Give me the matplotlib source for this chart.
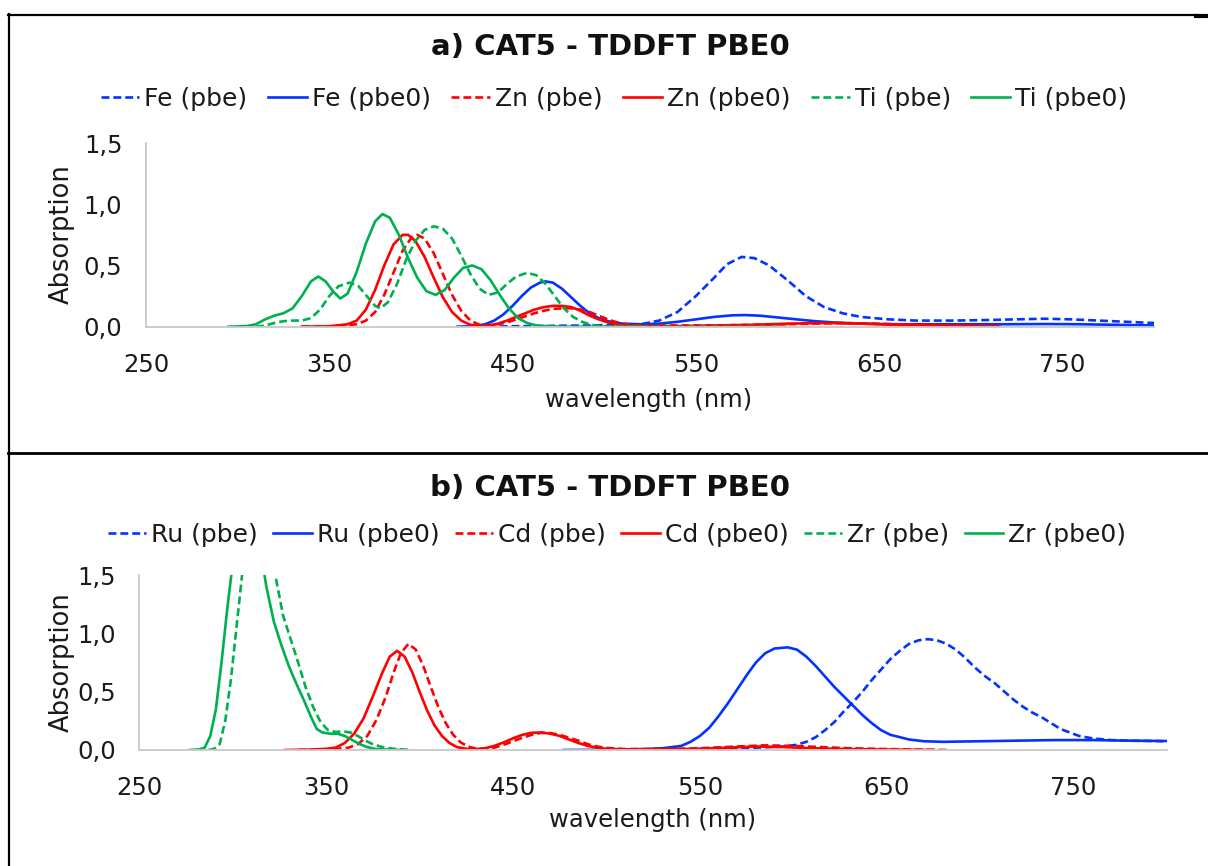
import matplotlib
matplotlib.use("Agg")
import matplotlib.pyplot as plt
from matplotlib.lines import Line2D
from matplotlib.ticker import FuncFormatter

BLUE = '#0433ff'
RED = '#ff0000'
GREEN = '#00b050'

# ---- panel a) ----
fe_pbe_x = [430, 460, 490, 510, 520, 530, 540, 550, 560, 567, 575, 582, 590, 600, 610, 620,
            630, 640, 655, 670, 690, 710, 725, 740, 755, 770, 785, 800]
fe_pbe_y = [0, 0.005, 0.01, 0.015, 0.02, 0.05, 0.12, 0.25, 0.40, 0.51, 0.57, 0.56, 0.50, 0.38,
            0.25, 0.16, 0.11, 0.08, 0.06, 0.05, 0.05, 0.055, 0.06, 0.065, 0.06, 0.05, 0.04, 0.03]

fe_pbe0_x = [420, 430, 435, 440, 445, 450, 455, 460, 465, 468, 472, 477, 482, 487, 492, 497,
             502, 510, 520, 530, 540, 550, 560, 570, 577, 585, 595, 605, 615, 625, 640, 660,
             680, 700, 720, 740, 760, 780, 800]
fe_pbe0_y = [0, 0.005, 0.02, 0.05, 0.10, 0.17, 0.25, 0.32, 0.36, 0.37, 0.36, 0.31, 0.24, 0.17,
             0.11, 0.07, 0.045, 0.025, 0.02, 0.025, 0.04, 0.06, 0.08, 0.093, 0.095, 0.09, 0.075,
             0.06, 0.045, 0.035, 0.025, 0.02, 0.02, 0.02, 0.02, 0.022, 0.02, 0.015, 0.01]

zn_pbe_x = [335, 355, 365, 370, 375, 380, 385, 390, 395, 398, 402, 407, 412, 417, 422, 427,
            432, 437, 442, 447, 452, 457, 462, 467, 472, 477, 482, 487, 492, 497, 502, 507,
            512, 520, 560, 600, 630, 660, 690, 717]
zn_pbe_y = [0, 0.005, 0.02, 0.05, 0.12, 0.26, 0.44, 0.62, 0.73, 0.75, 0.72, 0.60, 0.43, 0.26,
            0.13, 0.05, 0.015, 0.01, 0.02, 0.035, 0.06, 0.085, 0.11, 0.13, 0.145, 0.15, 0.15,
            0.14, 0.12, 0.09, 0.06, 0.035, 0.02, 0.01, 0.01, 0.02, 0.03, 0.02, 0.01, 0.005]

zn_pbe0_x = [335, 350, 360, 365, 370, 375, 380, 385, 390, 393, 397, 402, 407, 412, 417, 422,
             427, 432, 437, 442, 447, 452, 457, 462, 467, 472, 477, 482, 487, 492, 497, 502,
             507, 512, 520, 540, 560, 580, 600, 620, 640, 660, 680, 700, 716]
zn_pbe0_y = [0, 0.003, 0.02, 0.05, 0.14, 0.30, 0.50, 0.67, 0.75, 0.75, 0.70, 0.57, 0.40, 0.24,
             0.12, 0.05, 0.015, 0.005, 0.01, 0.025, 0.05, 0.08, 0.11, 0.14, 0.16, 0.17, 0.17,
             0.16, 0.13, 0.09, 0.06, 0.035, 0.02, 0.01, 0.005, 0.005, 0.01, 0.015, 0.025, 0.03,
             0.025, 0.015, 0.01, 0.005, 0]

ti_pbe_x = [310, 315, 320, 325, 330, 335, 340, 345, 350, 355, 361, 366, 371, 375, 378, 382,
            387, 392, 397, 402, 407, 412, 417, 422, 427, 432, 437, 442, 447, 452, 458, 463,
            468, 473, 478, 483, 488, 493, 498, 510, 560, 600]
ti_pbe_y = [0, 0.01, 0.03, 0.045, 0.05, 0.05, 0.07, 0.14, 0.25, 0.33, 0.36, 0.33, 0.24, 0.17,
            0.15, 0.20, 0.35, 0.55, 0.70, 0.79, 0.82, 0.80, 0.72, 0.58, 0.43, 0.31, 0.26, 0.28,
            0.35, 0.41, 0.44, 0.42, 0.35, 0.25, 0.15, 0.08, 0.04, 0.015, 0.005, 0, 0, 0]

ti_pbe0_x = [295, 305, 310, 315, 320, 325, 330, 335, 340, 344, 348, 352, 356, 360, 365, 370,
             375, 379, 383, 388, 393, 398, 403, 408, 413, 418, 423, 428, 433, 438, 443, 448,
             453, 458, 463, 470, 480, 500, 520]
ti_pbe0_y = [0, 0.005, 0.02, 0.06, 0.09, 0.11, 0.15, 0.25, 0.37, 0.41, 0.37, 0.29, 0.23, 0.27,
             0.45, 0.68, 0.86, 0.92, 0.89, 0.75, 0.56, 0.40, 0.29, 0.26, 0.30, 0.40, 0.48, 0.50,
             0.47, 0.38, 0.26, 0.15, 0.07, 0.03, 0.01, 0.003, 0, 0, 0]

# ---- panel b) ----
ru_pbe_x = [515, 540, 560, 580, 595, 602, 607, 612, 617, 622, 627, 632, 637, 642, 647, 652,
            657, 662, 667, 672, 677, 682, 687, 692, 697, 702, 708, 713, 718, 723, 728, 733,
            738, 743, 748, 753, 760, 770, 780, 800]
ru_pbe_y = [0, 0.005, 0.01, 0.02, 0.03, 0.045, 0.07, 0.11, 0.17, 0.24, 0.33, 0.41, 0.50, 0.60,
            0.69, 0.78, 0.85, 0.91, 0.94, 0.95, 0.94, 0.91, 0.86, 0.79, 0.71, 0.64, 0.57, 0.50,
            0.43, 0.37, 0.32, 0.28, 0.23, 0.18, 0.15, 0.12, 0.10, 0.085, 0.08, 0.075]

ru_pbe0_x = [477, 500, 520, 530, 540, 545, 550, 555, 560, 565, 570, 575, 580, 585, 590, 597,
             602, 607, 612, 617, 622, 627, 632, 637, 642, 647, 652, 657, 662, 670, 680, 700,
             720, 740, 760, 780, 800]
ru_pbe0_y = [0, 0.002, 0.008, 0.015, 0.035, 0.07, 0.12, 0.19, 0.29, 0.40, 0.52, 0.64, 0.75,
             0.83, 0.87, 0.88, 0.86, 0.80, 0.72, 0.63, 0.54, 0.46, 0.38, 0.30, 0.23, 0.17, 0.13,
             0.11, 0.09, 0.075, 0.07, 0.075, 0.08, 0.085, 0.085, 0.08, 0.077]

cd_pbe_x = [335, 355, 362, 367, 372, 377, 382, 386, 390, 394, 398, 402, 406, 410, 414, 418,
            422, 426, 430, 435, 440, 445, 450, 455, 460, 465, 470, 475, 480, 485, 490, 495,
            500, 510, 530, 550, 570, 585, 600, 615, 630, 650, 682]
cd_pbe_y = [0, 0.008, 0.02, 0.05, 0.12, 0.26, 0.46, 0.66, 0.83, 0.91, 0.86, 0.72, 0.54, 0.37,
            0.23, 0.13, 0.065, 0.03, 0.012, 0.01, 0.02, 0.045, 0.075, 0.105, 0.13, 0.147, 0.145,
            0.13, 0.105, 0.08, 0.05, 0.03, 0.018, 0.008, 0.008, 0.015, 0.03, 0.04, 0.035, 0.025,
            0.015, 0.008, 0]

cd_pbe0_x = [328, 340, 350, 355, 360, 365, 370, 375, 380, 384, 388, 392, 396, 400, 404, 408,
             412, 416, 420, 425, 430, 435, 440, 445, 450, 455, 460, 465, 470, 475, 480, 485,
             490, 495, 500, 510, 530, 550, 565, 580, 595, 610, 630, 650, 675]
cd_pbe0_y = [0, 0.003, 0.01, 0.02, 0.06, 0.14, 0.27, 0.46, 0.66, 0.80, 0.85, 0.80, 0.67, 0.50,
             0.34, 0.21, 0.12, 0.06, 0.025, 0.01, 0.008, 0.015, 0.035, 0.065, 0.10, 0.13, 0.148,
             0.15, 0.14, 0.12, 0.09, 0.06, 0.035, 0.02, 0.01, 0.005, 0.005, 0.01, 0.02, 0.03,
             0.025, 0.015, 0.008, 0.004, 0]

zr_pbe_x = [287, 290, 293, 296, 299, 302, 305, 310, 315, 320, 323, 327, 331, 335, 339, 343,
            347, 351, 355, 359, 363, 367, 371, 375, 380, 386, 396]
zr_pbe_y = [0, 0.01, 0.05, 0.25, 0.6, 1.05, 1.5, 2.2, 2.1, 1.75, 1.48, 1.15, 0.95, 0.75, 0.54,
            0.37, 0.24, 0.17, 0.155, 0.16, 0.15, 0.12, 0.08, 0.05, 0.025, 0.01, 0]

zr_pbe0_x = [277, 282, 285, 288, 291, 294, 297, 300, 305, 310, 315, 318, 322, 326, 330, 334,
             338, 342, 345, 348, 352, 356, 360, 364, 368, 372, 376, 380, 390]
zr_pbe0_y = [0, 0.005, 0.02, 0.12, 0.35, 0.75, 1.2, 1.6, 2.3, 2.2, 1.7, 1.4, 1.1, 0.9, 0.72,
             0.57, 0.43, 0.28, 0.18, 0.15, 0.14, 0.14, 0.12, 0.085, 0.05, 0.025, 0.01, 0.005, 0]

xticks = [250, 350, 450, 550, 650, 750]
yticks = [0, 0.5, 1.0, 1.5]

W, H = 1208, 866
FS = 17.5
DASH = (3, 1.5)

fig = plt.figure(figsize=(W / 100, H / 100), dpi=100)


def comma(v, pos):
    return f"{v:.1f}".replace('.', ',')


def panel(box, series, labels, title, title_y, leg_xy, colsp, xlab_xy, ylab_xy):
    # box = (left px, top px, right px, bottom px)
    l, t, r, b = box
    ax = fig.add_axes([l / W, 1 - b / H, (r - l) / W, (b - t) / H])
    for (x, y, col, dashed), lab in zip(series, labels):
        if dashed:
            ax.plot(x, y, color=col, lw=1.9, dashes=DASH, label=lab)
        else:
            ax.plot(x, y, color=col, lw=1.9, label=lab)
    ax.set_xlim(250, 800)
    ax.set_ylim(0, 1.5)
    ax.set_xticks(xticks)
    ax.set_yticks(yticks)
    ax.yaxis.set_major_formatter(FuncFormatter(comma))
    for s in ['top', 'right']:
        ax.spines[s].set_visible(False)
    for s in ['left', 'bottom']:
        ax.spines[s].set_color('#c8c8c8')
        ax.spines[s].set_linewidth(1.3)
    ax.tick_params(length=0, labelsize=FS, colors='#1a1a1a')
    ax.tick_params(axis='x', pad=19)
    ax.tick_params(axis='y', pad=17)
    ax.set_xlabel('wavelength (nm)', fontsize=FS, color='#1a1a1a')
    ax.xaxis.set_label_coords((xlab_xy[0] - l) / (r - l), -(xlab_xy[1] - b) / (b - t))
    ax.xaxis.label.set_va('center')
    ax.set_ylabel('Absorption', fontsize=FS + 1, color='#1a1a1a')
    ax.yaxis.set_label_coords((ylab_xy[0] - l) / (r - l), (b - ylab_xy[1]) / (b - t))
    ax.yaxis.label.set_va('center')
    fig.text(610 / W, 1 - title_y / H, title, ha='center', va='center',
             fontsize=21, fontweight='bold', color='#111111')
    ax.legend(loc='center', bbox_to_anchor=(leg_xy[0] / W, 1 - leg_xy[1] / H),
              bbox_transform=fig.transFigure, ncol=6, frameon=False, fontsize=18,
              handlelength=1.55, handletextpad=0.2, columnspacing=colsp,
              labelcolor='#1a1a1a')
    return ax


panel((146, 143, 1154, 326.7),
      [(fe_pbe_x, fe_pbe_y, BLUE, True), (fe_pbe0_x, fe_pbe0_y, BLUE, False),
       (zn_pbe_x, zn_pbe_y, RED, True), (zn_pbe0_x, zn_pbe0_y, RED, False),
       (ti_pbe_x, ti_pbe_y, GREEN, True), (ti_pbe0_x, ti_pbe0_y, GREEN, False)],
      ['Fe (pbe)', 'Fe (pbe0)', 'Zn (pbe)', 'Zn (pbe0)', 'Ti (pbe)', 'Ti (pbe0)'],
      'a) CAT5 - TDDFT PBE0', 47, (614, 99), 0.82, (649, 400), (62, 234))

panel((139.3, 575, 1167, 750),
      [(ru_pbe_x, ru_pbe_y, BLUE, True), (ru_pbe0_x, ru_pbe0_y, BLUE, False),
       (cd_pbe_x, cd_pbe_y, RED, True), (cd_pbe0_x, cd_pbe0_y, RED, False),
       (zr_pbe_x, zr_pbe_y, GREEN, True), (zr_pbe0_x, zr_pbe0_y, GREEN, False)],
      ['Ru (pbe)', 'Ru (pbe0)', 'Cd (pbe)', 'Cd (pbe0)', 'Zr (pbe)', 'Zr (pbe0)'],
      'b) CAT5 - TDDFT PBE0', 488, (617, 535), 0.6, (653, 820), (62, 662))

# table cell borders around the two charts
def hline(x0, x1, y, lw):
    fig.add_artist(Line2D([x0 / W, x1 / W], [1 - y / H, 1 - y / H], color='black', lw=lw))

hline(8, 1197, 14.5, 1.6)
hline(1196, 1208, 15.5, 3)
hline(8, 1208, 453, 2)
fig.add_artist(Line2D([9 / W, 9 / W], [1 - 14 / H, 0], color='black', lw=1.6))

fig.savefig('out.png', dpi=100)
